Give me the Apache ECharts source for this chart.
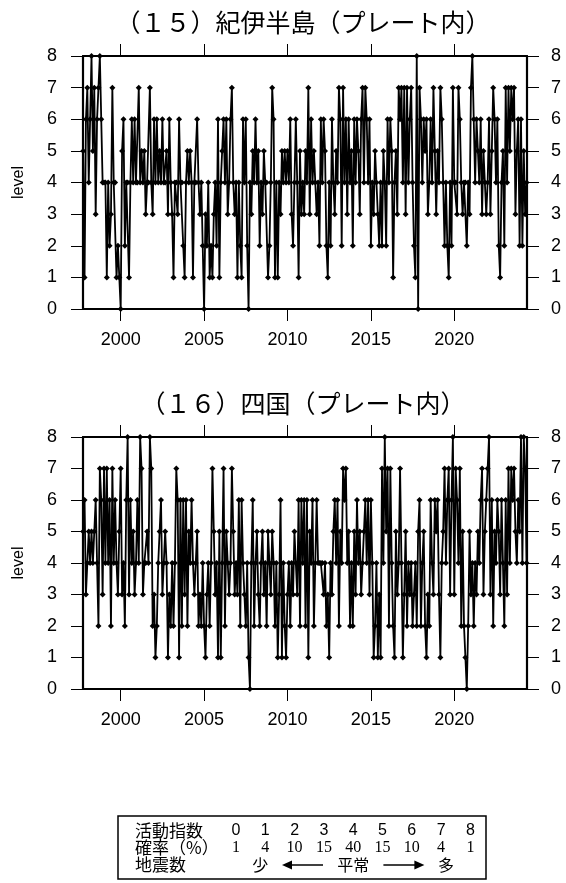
<!DOCTYPE html>
<html><head><meta charset="utf-8">
<script src="https://cdn.jsdelivr.net/npm/echarts@6/dist/echarts.min.js"></script>
<style>html,body{margin:0;padding:0;background:#fff}#c{width:566px;height:883px}</style>
</head><body><div id="c"></div>
<script>
// ---- data ----
const startYear = 1997, startMonth = 10; // first monthly value: Oct 1997
const kiiLevels = [
  5,1,6,
  7,4,6,8,5,7,3,6,7,8,6,4,
  4,4,1,4,2,3,7,4,4,1,2,1,
  0,5,6,2,4,4,1,4,6,4,6,4,
  4,7,4,5,4,5,3,4,4,7,4,3,
  6,4,6,4,5,4,6,4,4,5,3,6,
  4,3,1,4,4,3,6,4,4,2,1,4,
  5,4,5,4,1,4,4,6,4,3,4,2,
  0,3,2,4,1,2,1,3,4,2,6,1,
  4,5,6,4,6,3,4,6,7,4,3,4,
  1,4,2,1,6,4,6,2,0,4,3,5,
  4,6,4,5,2,4,3,5,4,4,1,2,
  4,7,6,1,4,1,4,3,5,4,5,4,
  5,4,6,3,2,4,6,4,1,5,3,4,
  3,5,4,7,3,6,4,5,4,3,4,2,
  6,4,6,5,2,1,4,2,6,4,3,5,
  4,7,6,2,7,4,6,3,6,4,5,2,
  6,4,6,5,3,6,7,4,7,6,4,6,
  2,4,3,5,4,3,2,4,2,5,4,2,
  6,4,6,5,1,4,5,3,7,6,7,4,
  7,3,7,4,6,7,4,2,1,8,0,7,
  6,4,6,5,6,3,4,6,4,7,5,3,
  5,4,7,6,4,2,4,2,1,4,2,7,
  4,4,3,7,6,4,3,4,4,2,4,3,
  7,8,6,4,6,5,4,6,3,5,4,3,
  4,6,3,5,7,6,4,6,2,1,4,5,
  2,7,4,7,5,7,6,7,3,5,6,2,
  6,2,5,3,4
];
const shikokuLevels = [
  5,6,3,
  4,5,4,5,4,5,6,4,2,7,6,3,
  7,4,7,4,6,2,7,4,6,4,3,5,
  7,3,4,2,6,8,3,6,4,5,3,4,
  6,4,8,7,3,4,4,5,4,8,7,2,
  3,1,2,4,5,6,3,4,5,4,1,3,
  2,4,2,4,7,6,1,6,2,6,3,6,
  2,5,4,6,4,3,4,5,2,3,2,4,
  2,1,3,4,2,4,7,5,3,4,1,5,
  1,4,7,2,5,4,3,4,7,5,3,4,
  3,6,2,6,4,3,2,4,1,0,4,6,
  2,4,5,3,2,4,5,3,4,2,5,4,
  3,5,4,2,4,1,3,6,1,4,2,1,
  3,4,2,4,3,5,4,3,6,2,6,4,
  6,2,6,1,5,4,6,2,4,6,4,4,
  4,4,3,4,2,3,1,4,3,5,6,4,
  6,2,5,4,7,6,7,4,5,2,4,2,
  5,3,6,4,5,3,4,5,6,4,6,3,
  6,4,1,2,4,1,3,1,7,4,8,5,
  7,2,7,4,2,1,5,3,4,7,4,1,
  3,5,2,4,3,4,2,3,4,2,5,6,
  2,4,5,2,1,3,2,6,4,3,6,5,
  6,3,1,4,5,7,4,6,7,3,6,8,
  3,7,6,4,7,2,5,2,1,0,2,5,
  3,4,2,4,3,5,4,6,7,3,5,6,
  7,8,3,6,2,5,4,6,5,3,6,4,
  2,6,3,7,4,7,6,7,5,4,6,5,
  8,4,8,7,4
];
const yearTicks = [2000, 2005, 2010, 2015, 2020];
const panelTitles = ['（１５）紀伊半島（プレート内）', '（１６）四国（プレート内）'];
const yAxisName = 'level';
const tableRowHeaders = ['活動指数', '確率（%）', '地震数'];
const activityIndex = ['0','1','2','3','4','5','6','7','8'];
const probability = ['1','4','10','15','40','15','10','4','1'];
const fewLabel = '少', normalLabel = '平常', manyLabel = '多';

// ---- layout ----
const SANS = '"Liberation Sans", Arial, sans-serif';
const SERIF = '"Liberation Serif", "Times New Roman", serif';
const CJK = '"Noto Sans CJK JP", sans-serif';
const grids = [
  {left: 83, right: 39, top: 56, height: 253},
  {left: 83, right: 39, top: 437, height: 252}
];
const xMin = 1997.74, xMax = 2024.36;

function toPairs(levels) {
  return levels.map((v, i) => [startYear + (startMonth - 1 + i) / 12, v]);
}

const xAxis = [], yAxis = [], series = [];
grids.forEach((g, gi) => {
  const axLine = {show: true, onZero: false, lineStyle: {color: '#000', width: 2.2}};
  const xCommon = {type: 'value', gridIndex: gi, min: xMin, max: xMax,
    splitLine: {show: false}, axisLine: axLine,
    axisTick: {show: true, length: 12, lineStyle: {color: '#000', width: 1}, customValues: yearTicks}};
  xAxis.push(Object.assign({}, xCommon, {position: 'bottom',
    axisLabel: {show: true, customValues: yearTicks, margin: 22, color: '#000', fontSize: 18, fontFamily: SANS,
      formatter: v => String(Math.round(v))}}));
  xAxis.push(Object.assign({}, xCommon, {position: 'top', axisLabel: {show: false}}));
  const yCommon = {type: 'value', gridIndex: gi, min: 0, max: 8, interval: 1,
    splitLine: {show: false}, axisLine: axLine,
    axisTick: {show: true, length: 12, lineStyle: {color: '#000', width: 1}}};
  yAxis.push(Object.assign({}, yCommon, {position: 'left',
    name: yAxisName, nameLocation: 'middle', nameGap: 56, nameRotate: 90,
    nameTextStyle: {color: '#000', fontSize: 16, fontFamily: SANS},
    axisLabel: {color: '#000', fontSize: 18, fontFamily: SANS, margin: 26}}));
  yAxis.push(Object.assign({}, yCommon, {position: 'right',
    axisLabel: {color: '#000', fontSize: 18, fontFamily: SANS, margin: 24}}));
  series.push({type: 'line', xAxisIndex: gi * 2, yAxisIndex: gi * 2,
    data: toPairs(gi === 0 ? kiiLevels : shikokuLevels),
    symbol: 'diamond', symbolSize: 6, showSymbol: true, showAllSymbol: true,
    lineStyle: {color: '#000', width: 1.8}, itemStyle: {color: '#000'},
    clip: false, silent: true, animation: false});
});

// ---- titles & table graphics ----
const graphic = [];
const titleY = [22, 403];
panelTitles.forEach((t, i) => graphic.push({type: 'text', x: 303, y: titleY[i],
  style: {text: t, font: '25px ' + CJK, fill: '#000', textAlign: 'center', textVerticalAlign: 'middle'}}));

const box = {x: 118, y: 816, w: 368, h: 63};
graphic.push({type: 'rect', shape: {x: box.x, y: box.y, width: box.w, height: box.h},
  style: {fill: 'none', stroke: '#000', lineWidth: 1.5}});
const rowY = [831, 848, 865];
const colX = k => 236 + 29.3 * k;
tableRowHeaders.forEach((h, r) => graphic.push({type: 'text', x: 135, y: rowY[r],
  style: {text: h, font: '17px ' + CJK, fill: '#000', textAlign: 'left', textVerticalAlign: 'middle'}}));
activityIndex.forEach((s, k) => graphic.push({type: 'text', x: colX(k), y: rowY[0],
  style: {text: s, font: '16px ' + SANS, fill: '#000', textAlign: 'center', textVerticalAlign: 'middle'}}));
probability.forEach((s, k) => graphic.push({type: 'text', x: colX(k), y: rowY[1],
  style: {text: s, font: '16px ' + SERIF, fill: '#000', textAlign: 'center', textVerticalAlign: 'middle'}}));
const midX = colX(4);
graphic.push({type: 'text', x: colX(1) - 5, y: rowY[2], style: {text: fewLabel, font: '16px ' + CJK, fill: '#000', textAlign: 'center', textVerticalAlign: 'middle'}});
graphic.push({type: 'text', x: midX, y: rowY[2], style: {text: normalLabel, font: '16px ' + CJK, fill: '#000', textAlign: 'center', textVerticalAlign: 'middle'}});
graphic.push({type: 'text', x: 2 * midX - (colX(1) - 5), y: rowY[2], style: {text: manyLabel, font: '16px ' + CJK, fill: '#000', textAlign: 'center', textVerticalAlign: 'middle'}});
const tipL = 282, innerL = 323;
const tipR = 2 * midX - tipL, innerR = 2 * midX - innerL;
graphic.push({type: 'line', shape: {x1: tipL + 8, y1: rowY[2], x2: innerL, y2: rowY[2]}, style: {stroke: '#000', lineWidth: 1.3}});
graphic.push({type: 'polygon', shape: {points: [[tipL, rowY[2]], [tipL + 10, rowY[2] - 4.5], [tipL + 10, rowY[2] + 4.5]]}, style: {fill: '#000'}});
graphic.push({type: 'line', shape: {x1: innerR, y1: rowY[2], x2: tipR - 8, y2: rowY[2]}, style: {stroke: '#000', lineWidth: 1.3}});
graphic.push({type: 'polygon', shape: {points: [[tipR, rowY[2]], [tipR - 10, rowY[2] - 4.5], [tipR - 10, rowY[2] + 4.5]]}, style: {fill: '#000'}});

const chart = echarts.init(document.getElementById('c'), null, {renderer: 'canvas'});
chart.setOption({animation: false, backgroundColor: '#fff', grid: grids, xAxis, yAxis, series, graphic});
</script></body></html>
